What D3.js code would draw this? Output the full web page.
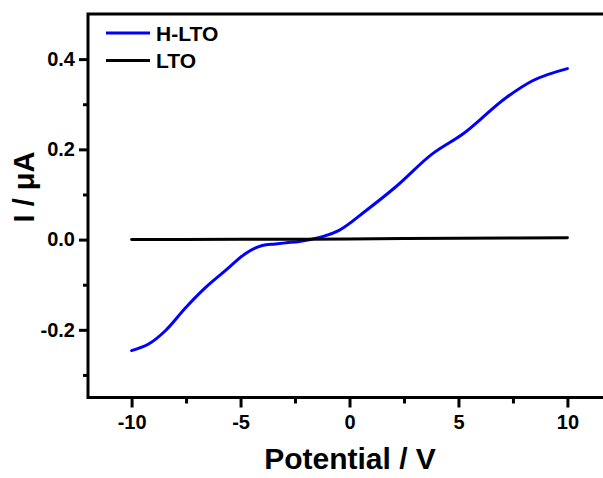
<!DOCTYPE html>
<html>
<head>
<meta charset="utf-8">
<script src="https://cdn.jsdelivr.net/npm/d3@7"></script>
<style>
  body { margin: 0; background: #fff; }
  svg { display: block; }
  text { font-family: "Liberation Sans", Arial, sans-serif; font-weight: bold; }
</style>
</head>
<body>
<div id="chart"></div>
<script>
const width = 603, height = 478;

// H-LTO current vs potential
const hltoV = [-10, -9.2, -8.45, -7.5, -6.6, -5.7, -4.8, -4.0, -3.4, -2.9, -2.3, -1.8, -1.2, -0.5, 0.75, 2.1, 3.8, 5.2, 7.2, 8.4, 10];
const hltoI = [-0.246, -0.231, -0.202, -0.15, -0.106, -0.069, -0.032, -0.013, -0.0096, -0.007, -0.004, 0.0, 0.007, 0.02, 0.064, 0.116, 0.19, 0.234, 0.315, 0.352, 0.379];

// LTO current vs potential
const ltoV = [-10, -5, 0, 5, 10];
const ltoI = [0, 0.0005, 0.0015, 0.003, 0.004];

const xMajor = [-10, -5, 0, 5, 10];
const xMinor = [-7.5, -2.5, 2.5, 7.5];
const yMajor = [-0.2, 0.0, 0.2, 0.4];
const yMinor = [-0.3, -0.1, 0.1, 0.3];

const seriesNames = ["H-LTO", "LTO"];
const seriesColors = ["#0000ff", "#000000"];

const margin = { left: 88, top: 14, bottom: 397.5, right: 611 };

const x = d3.scaleLinear().domain([-12, 12]).range([margin.left, margin.right]);
const y = d3.scaleLinear().domain([-0.35, 0.5]).range([margin.bottom, margin.top]);

// plain hyphen for negatives, like the original
const fmtX = d => d3.format("d")(d).replace("\u2212", "-");
const fmtY = d => d3.format(".1f")(d).replace("\u2212", "-");

const svg = d3.select("#chart").append("svg")
  .attr("width", width)
  .attr("height", height);

// frame
svg.append("rect")
  .attr("x", x(-12))
  .attr("y", y(0.5))
  .attr("width", x(12) - x(-12))
  .attr("height", y(-0.35) - y(0.5))
  .attr("fill", "none")
  .attr("stroke", "#000")
  .attr("stroke-width", 3);

function styleAxis(g) {
  g.selectAll(".domain").remove();
  g.selectAll(".tick line").attr("stroke-width", 3);
  g.selectAll(".tick text")
    .attr("font-size", 20)
    .attr("font-family", "Liberation Sans, Arial, sans-serif")
    .attr("font-weight", "bold")
    .attr("fill", "#000");
}

// x axis
svg.append("g")
  .attr("transform", `translate(0,${y(-0.35)})`)
  .call(d3.axisBottom(x).tickValues(xMajor).tickSize(10).tickPadding(7).tickFormat(fmtX))
  .call(styleAxis);
svg.append("g")
  .attr("transform", `translate(0,${y(-0.35)})`)
  .call(d3.axisBottom(x).tickValues(xMinor).tickSize(6).tickFormat(""))
  .call(styleAxis);

// y axis
svg.append("g")
  .attr("transform", `translate(${x(-12)},0)`)
  .call(d3.axisLeft(y).tickValues(yMajor).tickSize(9).tickPadding(4).tickFormat(fmtY))
  .call(styleAxis);
svg.append("g")
  .attr("transform", `translate(${x(-12)},0)`)
  .call(d3.axisLeft(y).tickValues(yMinor).tickSize(5).tickFormat(""))
  .call(styleAxis);

// lines
const line = d3.line()
  .x(d => x(d[0]))
  .y(d => y(d[1]))
  .curve(d3.curveMonotoneX);

const series = [
  d3.zip(hltoV, hltoI),
  d3.zip(ltoV, ltoI)
];

svg.selectAll("path.series")
  .data(series)
  .join("path")
  .attr("class", "series")
  .attr("d", line)
  .attr("fill", "none")
  .attr("stroke", (d, i) => seriesColors[i])
  .attr("stroke-width", 3)
  .attr("stroke-linecap", "round");

// legend
const legend = svg.append("g").attr("transform", "translate(106,33)");
legend.selectAll("line")
  .data(seriesNames)
  .join("line")
  .attr("x1", 0)
  .attr("x2", 44)
  .attr("y1", (d, i) => i * 27.5)
  .attr("y2", (d, i) => i * 27.5)
  .attr("stroke", (d, i) => seriesColors[i])
  .attr("stroke-width", 3);
legend.selectAll("text")
  .data(seriesNames)
  .join("text")
  .attr("x", 50)
  .attr("y", (d, i) => i * 27.5 + 7.5)
  .attr("font-size", 21)
  .text(d => d);

// axis titles
svg.append("text")
  .attr("x", 350)
  .attr("y", 469)
  .attr("text-anchor", "middle")
  .attr("font-size", 30)
  .text("Potential / V");

svg.append("text")
  .attr("transform", "translate(34,187) rotate(-90)")
  .attr("text-anchor", "middle")
  .attr("font-size", 29)
  .text("I / μA");
</script>
</body>
</html>
